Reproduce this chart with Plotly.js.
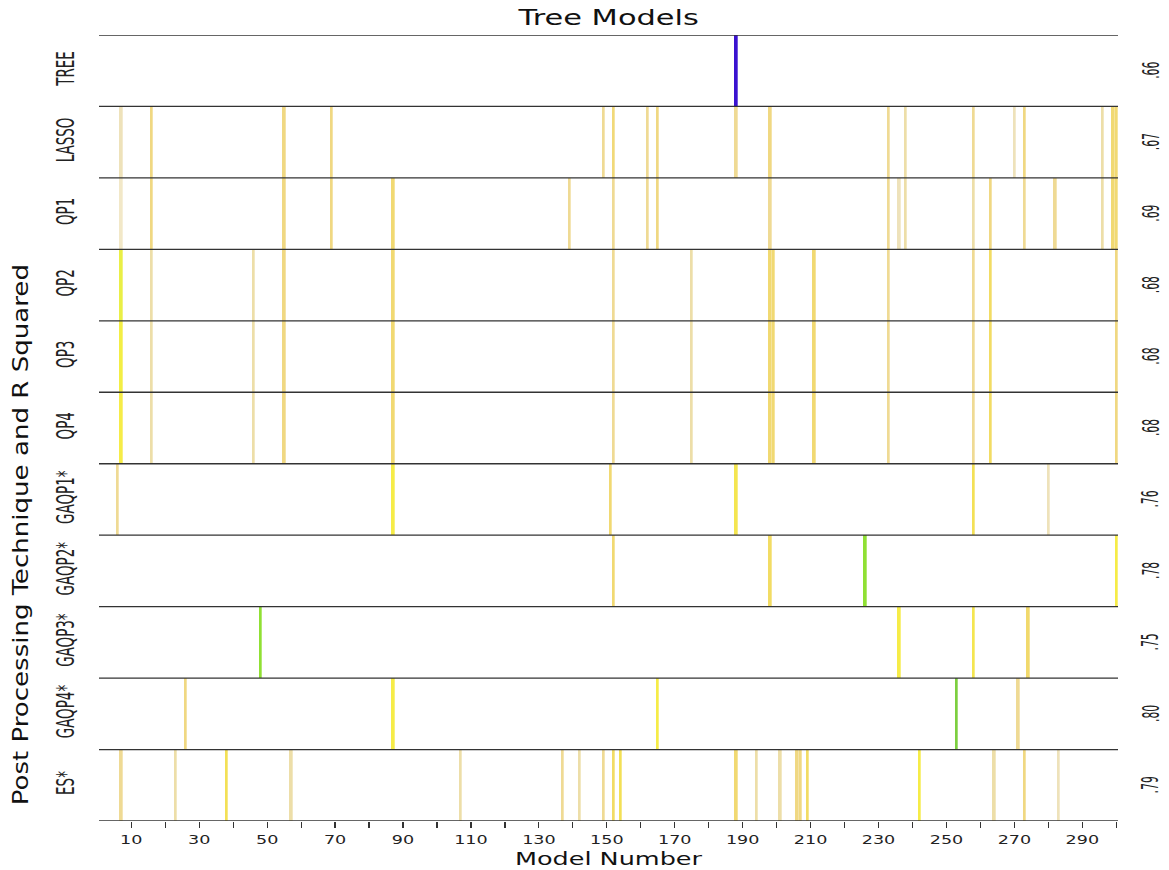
<!DOCTYPE html>
<html>
<head>
<meta charset="utf-8">
<script src="https://cdn.plot.ly/plotly-3.0.1.min.js"></script>
<style>
  html, body { margin: 0; padding: 0; background: #ffffff; }
  #chart { width: 1169px; height: 870px; }
</style>
</head>
<body>
<div id="chart"></div>
<script>
// ---- data ----
const rowNames = ['TREE', 'LASSO', 'QP1', 'QP2', 'QP3', 'QP4', 'GAQP1*', 'GAQP2*', 'GAQP3*', 'GAQP4*', 'ES*'];
const rSquared = ['.66', '.67', '.69', '.68', '.68', '.68', '.76', '.78', '.75', '.80', '.79'];

const treeModels = [188];
const treeWeights = [1.0];

const lassoModels = [7, 16, 55, 69, 149, 152, 162, 165, 188, 198, 233, 238, 258, 270, 273, 296, 299, 300];
const lassoWeights = [0.1, 0.25, 0.25, 0.25, 0.2, 0.28, 0.2, 0.25, 0.2, 0.25, 0.2, 0.15, 0.2, 0.1, 0.25, 0.15, 0.3, 0.3];

const qp1Models = [7, 16, 55, 69, 87, 139, 152, 162, 165, 198, 233, 236, 238, 258, 263, 273, 282, 296, 299, 300];
const qp1Weights = [0.05, 0.25, 0.25, 0.25, 0.3, 0.2, 0.2, 0.2, 0.25, 0.2, 0.2, 0.1, 0.15, 0.15, 0.25, 0.2, 0.2, 0.15, 0.3, 0.3];

const qp2Models = [7, 16, 46, 55, 87, 152, 175, 198, 199, 211, 233, 258, 263, 300];
const qp2Weights = [0.5, 0.15, 0.15, 0.25, 0.3, 0.2, 0.15, 0.3, 0.3, 0.3, 0.2, 0.2, 0.35, 0.25];

const qp3Models = [7, 16, 46, 55, 87, 152, 175, 198, 199, 211, 233, 258, 263, 300];
const qp3Weights = [0.47, 0.15, 0.15, 0.25, 0.3, 0.2, 0.15, 0.3, 0.3, 0.3, 0.2, 0.2, 0.35, 0.25];

const qp4Models = [7, 16, 46, 55, 87, 152, 175, 198, 199, 211, 233, 258, 263, 300];
const qp4Weights = [0.45, 0.15, 0.15, 0.25, 0.3, 0.2, 0.15, 0.3, 0.3, 0.3, 0.2, 0.2, 0.35, 0.25];

const gaqp1Models = [6, 87, 151, 188, 258, 280];
const gaqp1Weights = [0.2, 0.45, 0.3, 0.42, 0.4, 0.1];

const gaqp2Models = [152, 198, 226, 300];
const gaqp2Weights = [0.3, 0.35, 0.7, 0.45];

const gaqp3Models = [48, 236, 258, 274];
const gaqp3Weights = [0.7, 0.45, 0.42, 0.32];

const gaqp4Models = [26, 87, 165, 253, 271];
const gaqp4Weights = [0.25, 0.45, 0.45, 0.76, 0.2];

const esModels = [7, 23, 38, 57, 107, 137, 142, 149, 152, 154, 188, 194, 201, 206, 207, 209, 242, 264, 273, 283];
const esWeights = [0.2, 0.15, 0.4, 0.15, 0.15, 0.2, 0.15, 0.2, 0.35, 0.4, 0.3, 0.15, 0.15, 0.25, 0.25, 0.35, 0.45, 0.15, 0.25, 0.1];

const modelTickVals = [10, 20, 30, 40, 50, 60, 70, 80, 90, 100, 110, 120, 130, 140, 150, 160, 170, 180, 190, 200, 210, 220, 230, 240, 250, 260, 270, 280, 290, 300];
const modelTickText = ['10', '', '30', '', '50', '', '70', '', '90', '', '110', '', '130', '', '150', '', '170', '', '190', '', '210', '', '230', '', '250', '', '270', '', '290', ''];

// ---- build the heatmap table from the lists ----
const nModels = 300;
const rowModels = [treeModels, lassoModels, qp1Models, qp2Models, qp3Models, qp4Models, gaqp1Models, gaqp2Models, gaqp3Models, gaqp4Models, esModels];
const rowWeights = [treeWeights, lassoWeights, qp1Weights, qp2Weights, qp3Weights, qp4Weights, gaqp1Weights, gaqp2Weights, gaqp3Weights, gaqp4Weights, esWeights];

const xs = [];
for (let m = 1; m <= nModels; m++) xs.push(m);
const ys = rowNames.map((_, i) => i);
const z = rowNames.map((_, i) => {
  const row = new Array(nModels).fill(null);
  rowModels[i].forEach((m, j) => { row[m - 1] = rowWeights[i][j]; });
  return row;
});

const colorscale = [
  [0.0, '#f6eed6'],
  [0.12, '#ece0b4'],
  [0.22, '#f0d88c'],
  [0.32, '#f1d96c'],
  [0.4, '#f3e056'],
  [0.46, '#f6ee44'],
  [0.55, '#dcf048'],
  [0.7, '#90e034'],
  [0.8, '#70c448'],
  [1.0, '#3a12d0']
];

const traces = [{
  type: 'heatmap',
  x: xs,
  y: ys,
  z: z,
  zmin: 0,
  zmax: 1,
  colorscale: colorscale,
  showscale: false,
  xgap: 0.3,
  hoverongaps: false
}];

const lineColor = '#333333';
const shapes = [];
for (let k = 0; k <= rowNames.length; k++) {
  shapes.push({
    type: 'line', xref: 'paper', yref: 'y',
    x0: 0, x1: 1, y0: k - 0.5, y1: k - 0.5,
    line: { color: lineColor, width: 1.3 }
  });
}

const narrow = 'DejaVu Sans Condensed, Liberation Sans Narrow, Arial Narrow, sans-serif';
const wide = 'DejaVu Sans, Arial, sans-serif';

const annotations = rSquared.map((t, i) => ({
  xref: 'paper', yref: 'y', x: 1.0325, y: i,
  text: t, showarrow: false, textangle: -90,
  xanchor: 'center', yanchor: 'middle',
  font: { family: narrow, size: 12, color: '#222' }
}));
annotations.push({
  xref: 'paper', yref: 'paper', x: -0.077, y: 0.364,
  text: 'Post Processing Technique and R Squared', showarrow: false, textangle: -90,
  xanchor: 'center', yanchor: 'middle',
  font: { family: narrow, size: 29, color: '#111' }
});

const layout = {
  width: 1169,
  height: 870,
  margin: { l: 99, r: 51, t: 35, b: 49 },
  paper_bgcolor: '#ffffff',
  plot_bgcolor: '#ffffff',
  showlegend: false,
  title: {
    text: 'Tree Models',
    font: { family: wide, size: 21, color: '#111' },
    xref: 'paper', x: 0.5, xanchor: 'center',
    yref: 'container', y: 0.98, yanchor: 'middle'
  },
  xaxis: {
    range: [0.5, 300.5],
    tickmode: 'array',
    tickvals: modelTickVals,
    ticktext: modelTickText,
    ticks: 'outside', ticklen: 6, tickwidth: 1.2, tickcolor: lineColor,
    showgrid: false, zeroline: false, showline: false,
    tickfont: { family: wide, size: 13, color: '#222' },
    title: {
      text: 'Model Number', standoff: 7,
      font: { family: wide, size: 17, color: '#111' }
    }
  },
  yaxis: {
    range: [rowNames.length - 0.5, -0.5],
    tickmode: 'array',
    tickvals: ys,
    ticktext: rowNames,
    tickangle: -90,
    ticks: '',
    ticklabelstandoff: 24,
    showgrid: false, zeroline: false, showline: false,
    tickfont: { family: narrow, size: 15, color: '#222' }
  },
  shapes: shapes,
  annotations: annotations
};

// stretch a rendered text horizontally around its own centre (the reference text is wide)
function stretchX(el, sx) {
  try {
    const r = el.getBoundingClientRect();
    const svg = el.ownerSVGElement;
    const pt = svg.createSVGPoint();
    pt.x = r.left + r.width / 2;
    pt.y = r.top + r.height / 2;
    const p = pt.matrixTransform(el.parentNode.getScreenCTM().inverse());
    const old = el.getAttribute('transform') || '';
    el.setAttribute('transform',
      'translate(' + p.x + ',' + p.y + ') scale(' + sx + ',1) translate(' + (-p.x) + ',' + (-p.y) + ') ' + old);
  } catch (e) { /* leave text as drawn */ }
}

Plotly.newPlot('chart', traces, layout, { displayModeBar: false, responsive: false, staticPlot: true })
  .then(function (gd) {
    gd.querySelectorAll('.gtitle').forEach(el => stretchX(el, 1.45));
    gd.querySelectorAll('.xtitle').forEach(el => stretchX(el, 1.5));
    gd.querySelectorAll('.xtick text').forEach(el => stretchX(el, 1.35));
    gd.querySelectorAll('.ytick text').forEach(el => stretchX(el, 1.6));
    const anns = gd.querySelectorAll('.annotation');
    anns.forEach((el, i) => {
      if (i < rSquared.length) stretchX(el, 1.9);
      else stretchX(el, 0.72);
    });
  });
</script>
</body>
</html>
